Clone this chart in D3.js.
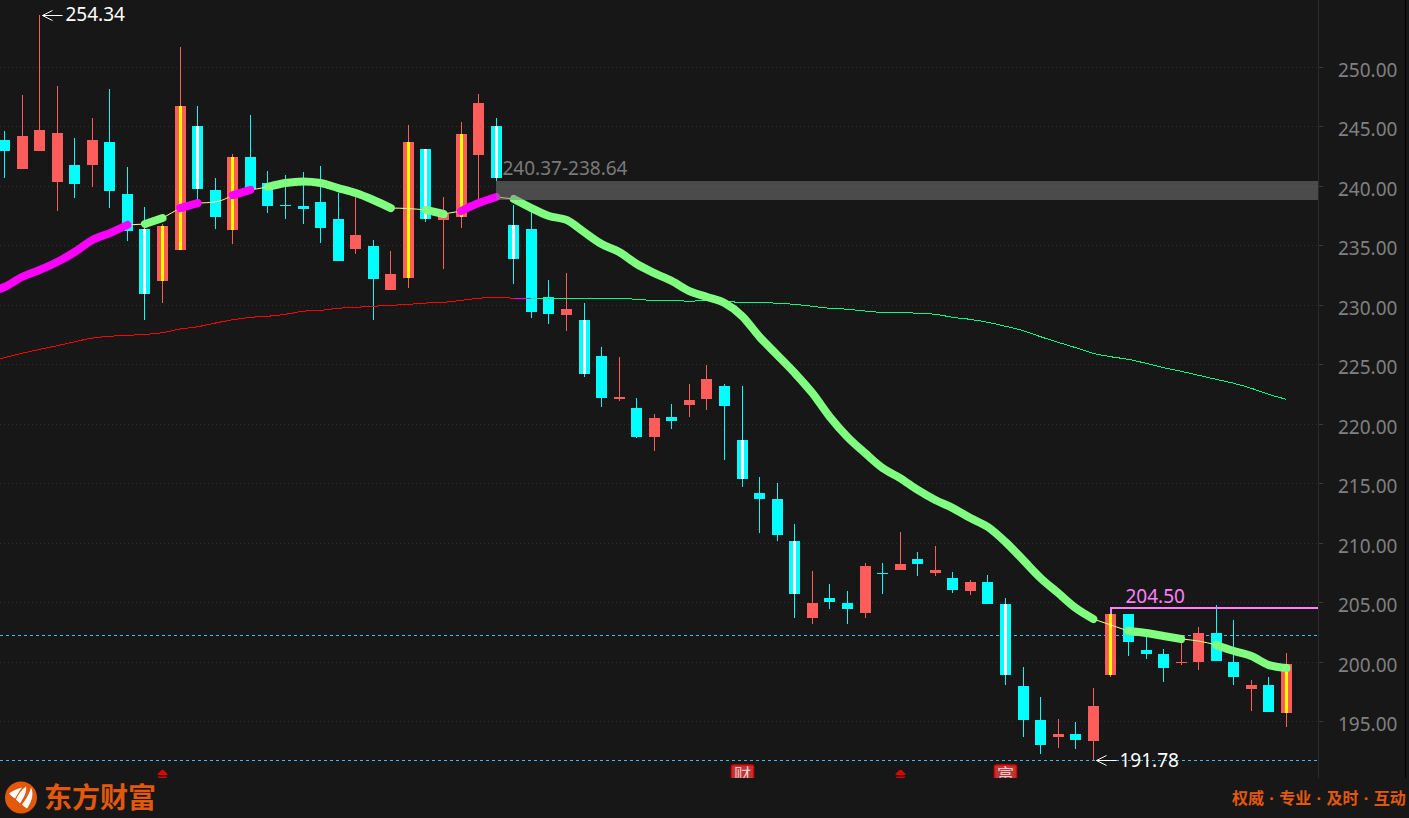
<!DOCTYPE html>
<html>
<head>
<meta charset="utf-8">
<script src="https://cdn.jsdelivr.net/npm/d3@7"></script>
<style>
  html, body { margin: 0; padding: 0; background: #171717; overflow: hidden; }
</style>
</head>
<body>
<div id="chart"></div>
<script>
// daily candles, left to right
const opens = [243.83,241.39,242.90,240.30,241.73,241.73,243.66,239.29,236.35,231.98,
  234.59,245.00,239.63,236.27,242.40,240.21,238.37,238.28,238.62,237.19,
  234.67,234.92,231.23,232.24,243.07,237.11,237.36,242.57,245.00,236.69,
  236.35,230.64,229.13,228.71,225.68,222.07,221.31,218.88,220.56,221.57,
  222.07,223.16,218.63,214.17,213.67,210.14,203.67,205.35,204.93,204.09,
  207.45,207.70,208.63,207.45,207.03,205.94,206.70,204.85,197.96,195.11,
  193.68,193.93,193.34,198.89,204.01,200.99,200.65,199.89,199.98,202.41,
  199.98,197.71,198.05,195.70];
const closes = [242.90,244.16,244.67,244.41,240.13,243.83,239.54,236.18,230.89,236.60,
  246.68,239.71,237.36,242.40,239.71,238.28,238.28,238.03,236.44,233.66,
  235.85,232.15,232.57,243.66,237.19,237.61,244.33,246.93,240.63,233.83,
  229.38,229.21,229.63,224.17,222.15,222.24,218.88,220.47,220.22,221.99,
  223.75,221.48,215.35,213.67,210.65,205.69,204.93,205.02,204.43,208.04,
  207.37,208.21,208.21,207.70,206.03,206.70,204.85,198.89,195.11,193.00,
  193.93,193.43,196.28,204.01,201.66,200.65,199.47,199.98,202.41,200.06,
  198.72,198.05,195.78,199.81];
const highs = [244.58,247.61,254.34,248.36,243.99,245.67,248.11,241.56,238.20,236.77,
  251.64,246.68,240.64,242.65,245.93,241.22,240.89,241.14,241.64,239.37,
  239.04,235.43,234.50,245.09,243.07,239.04,245.34,247.69,245.67,238.37,
  238.45,232.07,232.65,230.13,226.44,225.60,222.15,220.81,221.65,223.33,
  224.92,223.33,223.16,215.52,215.01,211.57,207.62,206.53,205.94,208.29,
  208.29,210.90,209.22,209.72,207.54,206.87,207.29,205.35,199.56,197.04,
  195.19,194.94,197.79,204.50,204.01,202.08,201.07,201.83,202.92,204.77,
  203.51,198.47,198.72,200.73];
const lows = [240.63,241.39,242.90,237.86,238.95,239.88,238.11,235.34,228.71,230.13,
  234.59,238.79,236.35,235.09,239.71,237.69,237.19,236.77,235.17,233.66,
  234.25,228.71,231.23,231.39,236.94,232.99,236.43,238.79,240.38,231.73,
  228.87,228.37,227.78,223.92,221.40,221.90,218.79,217.70,219.55,220.56,
  221.14,216.95,214.68,210.81,210.14,203.67,203.17,204.43,203.17,203.67,
  205.69,207.70,207.20,207.20,205.77,205.61,204.85,198.05,193.68,192.25,
  192.75,192.67,191.78,198.72,200.48,200.23,198.30,199.73,199.30,200.06,
  198.05,195.86,195.78,194.52];

// candles with a centre stripe
const striped = [8,9,10,11,13,23,24,26,28,29,33,42,45,57,63,73];

// moving averages, first value sits one candle left of the window
const fastMa = [230.97,231.48,232.32,232.91,233.58,234.42,235.43,236.01,236.69,236.77,237.27,
  238.11,238.53,238.62,239.20,239.63,239.88,240.21,240.34,240.21,239.79,
  239.37,238.79,238.11,238.07,237.95,237.61,237.86,238.53,239.04,238.87,
  238.11,237.44,237.11,236.10,235.09,234.42,233.41,232.65,231.98,231.14,
  230.64,230.13,229.04,227.28,225.77,224.25,222.57,220.56,218.88,217.53,
  216.27,215.43,214.43,213.59,212.91,212.07,211.32,210.06,208.56,207.03,
  205.77,204.51,203.59,203.09,202.58,202.41,202.16,201.91,201.74,201.41,
  200.90,200.48,199.72,199.47];
const slowMa = [225.26,225.54,225.91,226.24,226.55,226.88,227.19,227.34,227.42,227.50,227.64,
  227.95,228.14,228.45,228.73,228.93,229.02,229.19,229.44,229.52,229.69,
  229.77,229.86,229.94,230.02,230.13,230.19,230.36,230.53,230.61,230.53,
  230.53,230.53,230.53,230.53,230.53,230.53,230.44,230.36,230.36,230.28,
  230.36,230.28,230.19,230.19,230.11,230.02,229.86,229.69,229.61,229.46,
  229.35,229.35,229.27,229.19,228.93,228.76,228.51,228.18,227.81,227.30,
  226.83,226.38,225.91,225.62,225.40,225.07,224.70,224.40,224.06,223.72,
  223.39,222.97,222.46,222.04];

// colour runs along the MAs, [from candle, to candle, kind]
const fastRuns = [[-1,7,"up"],[7,8,"flat"],[8,9,"down"],[9,10,"flat"],[10,11,"up"],[11,13,"flat"],
  [13,14,"up"],[14,15,"flat"],[15,22,"down"],[22,24,"flat"],[24,25,"down"],[25,26,"flat"],
  [26,28,"up"],[28,29,"flat"],[29,62,"down"],[62,64,"flat"],[64,67,"down"],[67,69,"flat"],[69,73,"down"]];
const slowRuns = [[-1,29,"#ff0000"],[29,30,"#ff00ff"],[30,73,"#00ff80"]];

const priceTicks = [250,245,240,235,230,225,220,215,210,205,200,195];
const zoneLabel = "240.37-238.64";
const zoneTop = 240.37, zoneBottom = 238.79;
const resistance = 204.50, resistanceFrom = 63;
const dashedLevels = [202.22, 191.78];
const signalCandles = [9, 51];
const reportCandles = [[42, "财"], [57, "富"]];
const sloganText = "权威 · 专业 · 及时 · 互动";
const logoText = "东方财富";

const width = 1409, height = 818, plotRight = 1318, plotBottom = 778;
const red = "#ff5c5c", cyan = "#00ffff", orange = "#e2590c";
const numFont = "'Noto Sans', sans-serif", cjkFont = "'Noto Sans CJK SC', sans-serif";

const svg = d3.select("#chart").append("svg")
  .attr("width", width)
  .attr("height", height)
  .style("display", "block");

svg.append("rect").attr("width", width).attr("height", height).attr("fill", "#171717");

const x = d3.scaleLinear().domain([0, 73]).range([4.5, 1286.5]);
const y = d3.scaleLinear().domain([250, 195]).range([66.5, 721.3]);
// snap to the pixel grid so wicks stay 1px
const px = i => Math.floor(x(i)) + 0.5;
const py = v => Math.round(y(v));

svg.append("clipPath").attr("id", "plot")
  .append("rect").attr("width", plotRight).attr("height", plotBottom);
const plot = svg.append("g").attr("clip-path", "url(#plot)");

// dotted grid
plot.append("g").selectAll("line")
  .data(priceTicks)
  .join("line")
    .attr("x1", 0).attr("x2", plotRight)
    .attr("y1", d => py(d) + 0.5).attr("y2", d => py(d) + 0.5)
    .attr("stroke", "#2e2e2e")
    .attr("stroke-dasharray", "1 3");

// dashed levels
plot.append("g").selectAll("line")
  .data(dashedLevels)
  .join("line")
    .attr("x1", 0).attr("x2", plotRight)
    .attr("y1", d => py(d) + 0.5).attr("y2", d => py(d) + 0.5)
    .attr("stroke", "#3cbcf0")
    .attr("stroke-dasharray", "3 3");

// candles
const candles = plot.append("g").attr("shape-rendering", "crispEdges")
  .selectAll("g")
  .data(opens.map((d, i) => i))
  .join("g");
candles.append("line")
  .attr("x1", px).attr("x2", px)
  .attr("y1", i => py(highs[i])).attr("y2", i => py(lows[i]))
  .attr("stroke", i => closes[i] >= opens[i] ? red : cyan);
candles.append("rect")
  .attr("x", i => px(i) - 5.5)
  .attr("width", 11)
  .attr("y", i => py(Math.max(opens[i], closes[i])))
  .attr("height", i => Math.max(1, py(Math.min(opens[i], closes[i])) - py(Math.max(opens[i], closes[i]))))
  .attr("fill", i => closes[i] >= opens[i] ? red : cyan);
candles.filter(i => striped.includes(i)).append("rect")
  .attr("x", i => px(i) - 1.5)
  .attr("width", 3)
  .attr("y", i => py(Math.max(opens[i], closes[i])))
  .attr("height", i => py(Math.min(opens[i], closes[i])) - py(Math.max(opens[i], closes[i])))
  .attr("fill", i => closes[i] >= opens[i] ? "#ffff00" : "#ffffff");

// moving averages
const maLine = values => d3.line()
  .curve(d3.curveMonotoneX)
  .x(i => x(i))
  .y(i => y(values[i + 1]));

plot.append("g").selectAll("path")
  .data(slowRuns)
  .join("path")
    .attr("d", d => maLine(slowMa)(d3.range(d[0], d[1] + 1)))
    .attr("fill", "none")
    .attr("stroke", d => d[2])
    .attr("shape-rendering", "crispEdges");

const fastStyle = {
  up: {color: "#ff00ff", size: 8},
  down: {color: "#80ff80", size: 8},
  flat: {color: "#ffff80", size: 1}
};
plot.append("g").selectAll("path")
  .data(fastRuns.slice().sort((a, b) => fastStyle[a[2]].size - fastStyle[b[2]].size))
  .join("path")
    .attr("d", d => maLine(fastMa)(d3.range(d[0], d[1] + 1)))
    .attr("fill", "none")
    .attr("stroke", d => fastStyle[d[2]].color)
    .attr("stroke-width", d => fastStyle[d[2]].size)
    .attr("stroke-linecap", d => d[2] == "flat" ? "butt" : "round")
    .attr("stroke-linejoin", "round");

// resistance zone, sits above the lines
plot.append("rect")
  .attr("x", px(28) - 0.5)
  .attr("width", plotRight - px(28) + 0.5)
  .attr("y", py(zoneTop))
  .attr("height", py(zoneBottom) - py(zoneTop))
  .attr("fill", "#808080")
  .attr("fill-opacity", 0.5)
  .attr("shape-rendering", "crispEdges");
svg.append("text")
  .attr("x", px(28) + 6).attr("y", y(zoneTop) - 6)
  .attr("font-family", numFont).attr("font-size", 19)
  .attr("fill", "#7a7a7a")
  .text(zoneLabel);

// 204.50 line
const resPath = d3.path();
resPath.moveTo(px(resistanceFrom), py(highs[resistanceFrom]) + 6);
resPath.lineTo(px(resistanceFrom), py(resistance));
resPath.lineTo(plotRight, py(resistance));
plot.append("path")
  .attr("d", resPath.toString())
  .attr("fill", "none")
  .attr("stroke", "#ff80ff")
  .attr("stroke-width", 2)
  .attr("shape-rendering", "crispEdges");
svg.append("text")
  .attr("x", px(resistanceFrom) + 15).attr("y", py(resistance) - 5)
  .attr("font-family", numFont).attr("font-size", 19)
  .attr("fill", "#ff80ff")
  .text(resistance.toFixed(2));

// max / min callouts
const callouts = [[2, 254.34], [62, 191.78]];
const callout = svg.append("g").selectAll("g")
  .data(callouts)
  .join("g")
    .attr("transform", d => "translate(" + (px(d[0]) + 3) + "," + (py(d[1]) + 0.5) + ")");
callout.append("path")
  .attr("d", "M20,0H0M10,-5L0,0L10,5")
  .attr("fill", "none")
  .attr("stroke", "#fff");
callout.append("text")
  .attr("x", 23).attr("y", d => d[0] == 2 ? 5.500 : 6.500)
  .attr("font-family", numFont).attr("font-size", 19)
  .attr("fill", "#fff")
  .text(d => d[1].toFixed(2));

// bottom markers
plot.append("g").selectAll("path")
  .data(signalCandles)
  .join("path")
    .attr("transform", d => "translate(" + px(d) + ",770)")
    .attr("d", "M-1,0H1L5,4V5H-5V4ZM-5,6.5H5L3,8.500H-3Z")
    .attr("fill", "#e00000");
const reports = plot.append("g").selectAll("g")
  .data(reportCandles)
  .join("g")
    .attr("transform", d => "translate(" + px(d[0]) + ",765)");
reports.append("rect")
  .attr("x", -11).attr("y", 0)
  .attr("width", 22).attr("height", 20).attr("rx", 2)
  .attr("fill", "#b83838")
  .attr("stroke", "#e00000")
  .attr("stroke-width", 1.5);
reports.append("text")
  .attr("y", 16)
  .attr("text-anchor", "middle")
  .attr("font-family", cjkFont).attr("font-size", 17)
  .attr("fill", "#f0c8c8")
  .text(d => d[1]);

// right axis
const axis = svg.append("g")
  .attr("transform", "translate(" + plotRight + ",0)")
  .call(d3.axisRight(y).tickValues(priceTicks).tickSize(5).tickPadding(15).tickFormat(d => d.toFixed(2)));
axis.select(".domain").remove();
axis.selectAll("line").attr("stroke", "#3a3a3a").attr("shape-rendering", "crispEdges");
axis.selectAll("text")
  .attr("font-family", numFont)
  .attr("font-size", 19)
  .attr("fill", "#808080")
  .attr("dy", "0.5em");

svg.append("line")
  .attr("x1", plotRight + 0.5).attr("x2", plotRight + 0.5)
  .attr("y1", 0).attr("y2", plotBottom)
  .attr("stroke", "#2b2b2b");
svg.append("line")
  .attr("x1", 1405.5).attr("x2", 1405.5)
  .attr("y1", 0).attr("y2", plotBottom)
  .attr("stroke", "#000")
  .attr("stroke-width", 1);

// logo and slogan
const logo = svg.append("g").attr("transform", "translate(21,797.5)");
logo.append("circle").attr("r", 16).attr("fill", orange);
logo.append("path")
  .attr("d", "M-12,-4C-8,-7 -3,-9 1,-10C-2,-6 -4,-2 -6,1C-8,0 -10,-2 -12,-4ZM-5,2C-3,-3 1,-8 5,-11C6,-6 3,0 -1,6C-2,5 -4,3 -5,2ZM1,7C5,2 9,-5 10,-10C13,-4 11,4 6,11C4,10 2,8 1,7Z")
  .attr("fill", "#fff");
svg.append("text")
  .attr("x", 44).attr("y", 808)
  .attr("font-family", cjkFont).attr("font-size", 28).attr("font-weight", 700)
  .attr("fill", orange)
  .text(logoText);
svg.append("text")
  .attr("x", 1232).attr("y", 804)
  .attr("font-family", "'Noto Sans', 'Noto Sans CJK SC', sans-serif")
  .attr("font-size", 16).attr("font-weight", 700)
  .attr("word-spacing", 1.2)
  .attr("fill", orange)
  .text(sloganText);
</script>
</body>
</html>
